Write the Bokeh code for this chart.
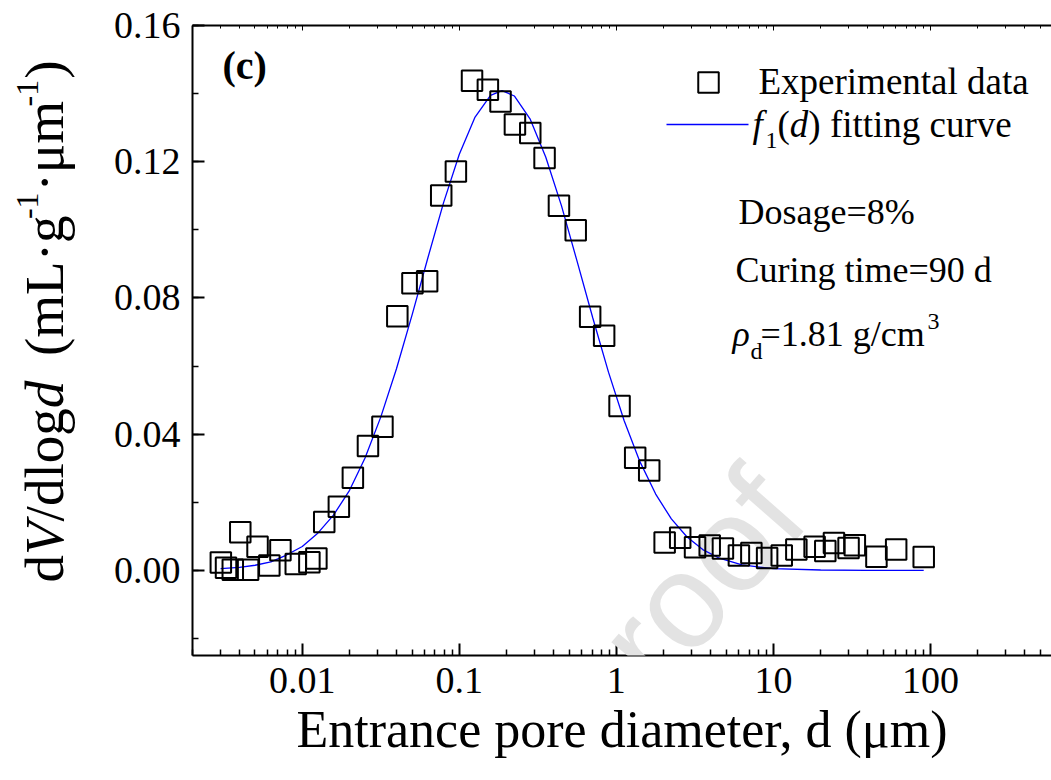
import math

from bokeh.plotting import figure
from bokeh.layouts import row
from bokeh.models import (Range1d, LogAxis, FixedTicker, SingleIntervalTicker,
                          PrintfTickFormatter, CustomJSTickFormatter, Label)
from bokeh.embed import file_html
from bokeh.resources import INLINE

# Mercury intrusion data: entrance pore diameter (um) and dV/dlogd (mL/g/um)
diameter_um = [0.00303, 0.00327, 0.00361, 0.00403, 0.00452, 0.00519, 0.00617,
               0.00726, 0.00909, 0.0111, 0.0123, 0.0138, 0.0171, 0.0210,
               0.0262, 0.0324, 0.0403, 0.0503, 0.0624, 0.0767, 0.0951,
               0.1205, 0.152, 0.183, 0.226, 0.283, 0.349, 0.431, 0.551,
               0.681, 0.836, 1.048, 1.318, 1.619, 2.03, 2.55, 3.17, 3.93,
               4.77, 6.03, 7.24, 9.12, 11.3, 14.0, 18.3, 21.4, 24.3, 30.1,
               33.0, 45.3, 60.5, 90.6]
dv_dlogd = [0.0023, 0.0008, 0.0002, 0.0112, 0.0002, 0.0069, 0.0014,
            0.0059, 0.0019, 0.0024, 0.0035, 0.0142, 0.0187, 0.0272,
            0.0365, 0.0422, 0.0746, 0.0843, 0.0849, 0.1101, 0.1171,
            0.1438, 0.1411, 0.1377, 0.1309, 0.1284, 0.1211, 0.1071, 0.0999,
            0.0745, 0.0689, 0.0483, 0.0331, 0.0293, 0.0082, 0.0096, 0.0068,
            0.0073, 0.0064, 0.0044, 0.0051, 0.0036, 0.0044, 0.0061, 0.0069,
            0.0057, 0.0080, 0.0066, 0.0074, 0.0040, 0.0061, 0.0039]

# f1(d) fitting curve, sampled along the diameter axis
fit_diameter_um = [0.00302, 0.00398, 0.00501, 0.00631, 0.00794, 0.0100,
                   0.0126, 0.0158, 0.0200, 0.0251, 0.0316, 0.0398, 0.0501,
                   0.0631, 0.0794, 0.100, 0.126, 0.158, 0.187, 0.224, 0.282,
                   0.355, 0.447, 0.562, 0.708, 0.891, 1.12, 1.41, 1.78, 2.24,
                   2.82, 3.55, 4.47, 6.31, 10.0, 20.0, 39.8, 90.6]
fit_dv_dlogd = [0.0005, 0.0009, 0.0015, 0.0025, 0.0045, 0.0070, 0.0110,
                0.0162, 0.0235, 0.0330, 0.0450, 0.0592, 0.0751, 0.0918,
                0.1080, 0.1222, 0.1331, 0.1395, 0.1409, 0.1393, 0.1326,
                0.1214, 0.1071, 0.0908, 0.0741, 0.0582, 0.0440, 0.0320,
                0.0224, 0.0151, 0.0098, 0.0061, 0.0037, 0.0016, 0.0005,
                0.0001, 0.0000, 0.0000]

x_major_ticks = [0.01, 0.1, 1, 10, 100]
y_tick_step = 0.04
x_title = "Entrance pore diameter, d (\u03bcm)"

SERIF = "Liberation Serif"
W, H = 1051, 780
LEFT, RIGHT, TOP, BOTTOM = 192, 1051, 25, 655   # plot frame on the page
YTITLE_W = 95                                    # strip holding the y title
X_START, X_END = 0.002, 590.0
Y_START, Y_END = -0.025, 0.16
LIFT = 0.33   # label anchor sits mid-text; raise it to put the baseline on target

common = dict(output_backend="svg", toolbar_location=None,
              background_fill_color="white", border_fill_color="white")

p = figure(width=W - YTITLE_W, height=H, x_axis_type="log",
           x_range=Range1d(X_START, X_END), y_range=Range1d(Y_START, Y_END),
           min_border_left=LEFT - YTITLE_W, min_border_right=W - RIGHT,
           min_border_top=TOP, min_border_bottom=H - BOTTOM, **common)
p.outline_line_color = None
p.grid.visible = False


def at_x(px):
    """Page pixel column -> x data value (log axis)."""
    l0, l1 = math.log10(X_START), math.log10(X_END)
    return 10 ** (l0 + (px - LEFT) / (RIGHT - LEFT) * (l1 - l0))


def at_y(py):
    """Page pixel row -> y data value."""
    return Y_END - (py - TOP) / (BOTTOM - TOP) * (Y_END - Y_START)


def style_axis(ax, major=12, minor=6):
    ax.axis_line_width = 2
    ax.axis_line_color = "black"
    ax.major_tick_in = major
    ax.major_tick_out = 0
    ax.minor_tick_in = minor
    ax.minor_tick_out = 0
    ax.major_tick_line_width = 2
    ax.minor_tick_line_width = 1.5
    ax.major_label_text_font = SERIF
    ax.major_label_text_font_size = "38px"
    ax.major_label_text_color = "black"


minor_x = [m * 10.0 ** k for k in range(-3, 3) for m in range(2, 10)]
x_ticker = FixedTicker(ticks=x_major_ticks, minor_ticks=minor_x)

xa = p.xaxis[0]
xa.ticker = x_ticker
xa.formatter = CustomJSTickFormatter(code="return String(tick);")
style_axis(xa)
xa.major_label_standoff = 12
xa.axis_label = x_title
xa.axis_label_text_font = SERIF
xa.axis_label_text_font_size = "52px"
xa.axis_label_text_font_style = "normal"
xa.axis_label_text_color = "black"
xa.axis_label_standoff = 5

ya = p.yaxis[0]
ya.ticker = SingleIntervalTicker(interval=y_tick_step, num_minor_ticks=2)
ya.formatter = PrintfTickFormatter(format="%.2f")
style_axis(ya)
ya.major_label_standoff = 12

# top frame edge: mirrored log ticks, no labels
top_axis = LogAxis(ticker=x_ticker)
style_axis(top_axis, major=5, minor=3)
top_axis.major_tick_line_width = 1
top_axis.minor_tick_line_width = 1
top_axis.formatter = CustomJSTickFormatter(code="return '';")
top_axis.major_label_text_font_size = "10px"
top_axis.major_label_standoff = 0
p.add_layout(top_axis, "above")

# fitted curve and measured points
fit = p.line(fit_diameter_um, fit_dv_dlogd, line_color="#0000ff", line_width=1.3)
pts = p.scatter(diameter_um, dv_dlogd, marker="square", size=20.5,
                fill_color=None, line_color="black", line_width=2)
fit.level = "overlay"
pts.level = "overlay"


def label(text, x, y, size, style="normal", align="left", angle=0.0,
          font=SERIF, color="black"):
    return Label(x=x, y=y, text=text, text_font=font,
                 text_font_size=f"{size}px", text_font_style=style,
                 text_align=align, text_baseline="alphabetic",
                 angle=angle, text_color=color)


def put(text, px, py, size, lift=True, **kw):
    """Place text in the plot with its baseline at page row py."""
    if lift:
        py = py - LIFT * size
    p.add_layout(label(text, at_x(px), at_y(py), size, **kw))


# panel tag
put("(c)", 222, 78, 40, style="bold")

# legend
key_sq = p.scatter([at_x(708)], [at_y(82)], marker="square", size=20.5,
                   fill_color=None, line_color="black", line_width=2)
key_ln = p.line([at_x(666), at_x(748)], [at_y(124), at_y(124)],
                line_color="#0000ff", line_width=1.3)
put("Experimental data", 758, 93, 37)
put("f", 752, 136, 37, style="italic")
put("1", 765, 148, 24)
put("(", 777, 136, 37)
put("d", 777 + 0.333 * 37, 136, 37, style="italic")
put(")", 777 + 0.833 * 37, 136, 37)
put("fitting curve", 777 + 1.416 * 37, 136, 37)

# specimen conditions
put("Dosage=8%", 738, 223, 36)
put("Curing time=90 d", 735, 281, 36)
put("\u03c1", 732, 345, 36, style="italic")
put("d", 750, 358, 24)
put("=1.81 g/cm", 760, 345, 36)
put("3", 927, 329, 24)

# journal watermark
put("proof", 777, 490, 135, lift=False, align="right", angle=0.85,
    font="Liberation Sans", color="#e3e3e3")

# y-axis title strip (left); its frame lines up with the plot frame,
# so its y data value is minus the page row
yfig = figure(width=YTITLE_W, height=H, x_range=Range1d(0, YTITLE_W),
              y_range=Range1d(-BOTTOM, -TOP), min_border=0,
              x_axis_location=None, y_axis_location=None, **common)
yfig.outline_line_color = None
yfig.grid.visible = False

YS, SUP = 55, 32
base_x, sup_x = 62, 38
y0 = 582
pieces = [("d", "normal", YS, 0.5), ("V", "italic", YS, 0.611),
          ("/dlog", "normal", YS, 2.056), ("d", "italic", YS, 0.5),
          (None, "space", YS, 0.45),
          ("(mL\u00b7g", "normal", YS, 2.472), ("-1", "sup", SUP, 0.833),
          ("\u00b7\u03bcm", "normal", YS, 1.528), ("-1", "sup", SUP, 0.833),
          (")", "normal", YS, 0.333)]
off = 0.0
for txt, kind, size, em in pieces:
    if kind == "space":
        off += em * size
    elif kind == "sup":
        yfig.add_layout(label(txt, sup_x - LIFT * size, -(y0 - off - 1), size,
                              angle=math.pi / 2))
        off += em * size + 2
    else:
        yfig.add_layout(label(txt, base_x - LIFT * size, -(y0 - off), size,
                              style=kind, angle=math.pi / 2))
        off += em * size

page = row(yfig, p)
open("out.html", "w").write(file_html(page, INLINE))
